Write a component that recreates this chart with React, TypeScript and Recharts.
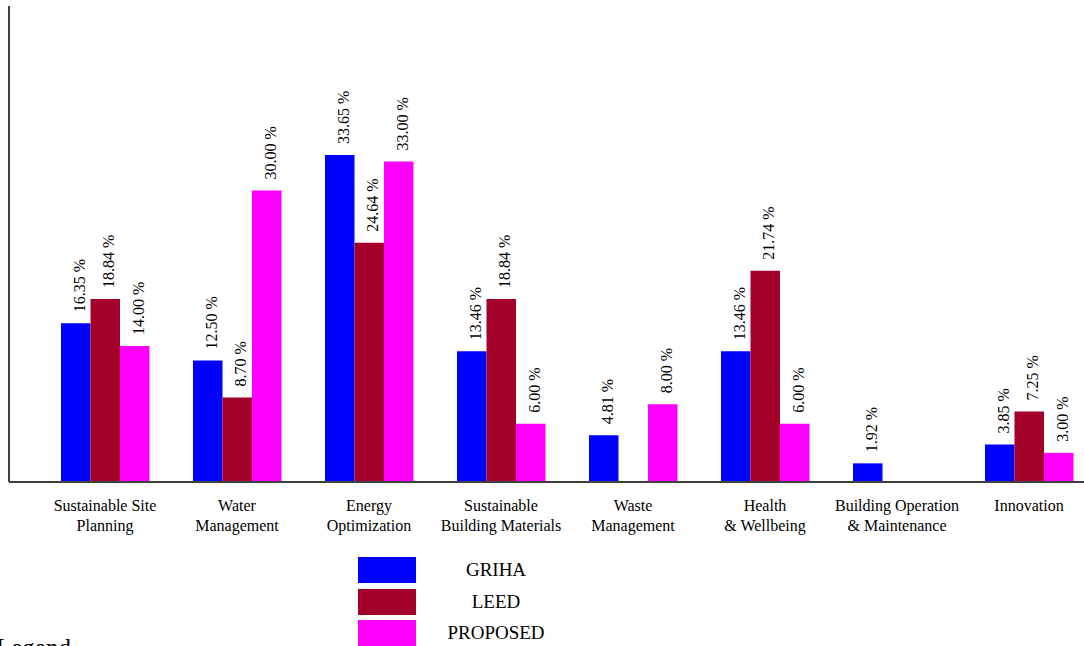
import React from 'react';
import { BarChart, Bar, XAxis, YAxis, LabelList, Legend } from 'recharts';

const CATEGORIES = [
  ['Sustainable Site', 'Planning'],
  ['Water', 'Management'],
  ['Energy', 'Optimization'],
  ['Sustainable', 'Building Materials'],
  ['Waste', 'Management'],
  ['Health', '& Wellbeing'],
  ['Building Operation', '& Maintenance'],
  ['Innovation'],
];
const GRIHA = [16.35, 12.5, 33.65, 13.46, 4.81, 13.46, 1.92, 3.85];
const LEED: (number | null)[] = [18.84, 8.7, 24.64, 18.84, null, 21.74, null, 7.25];
const PROPOSED: (number | null)[] = [14.0, 30.0, 33.0, 6.0, 8.0, 6.0, null, 3.0];

const SERIES = [
  { key: 'griha', name: 'GRIHA', color: '#0000FF' },
  { key: 'leed', name: 'LEED', color: '#A3002A' },
  { key: 'proposed', name: 'PROPOSED', color: '#FF00FF' },
];

const data = CATEGORIES.map((c, i) => ({
  name: c.join('\n'),
  griha: GRIHA[i],
  leed: LEED[i],
  proposed: PROPOSED[i],
}));

const FONT = '"Liberation Serif", "Times New Roman", serif';

const ValueLabel = (props: any) => {
  const { x, y, width, value } = props;
  if (value === null || value === undefined) return null;
  const tx = x + width / 2 + 9;
  const ty = y - 11;
  return (
    <text
      x={tx}
      y={ty}
      transform={`rotate(-90, ${tx}, ${ty})`}
      textAnchor="start"
      fontFamily={FONT}
      fontSize={16}
      fill="#000"
    >
      {Number(value).toFixed(2) + ' %'}
    </text>
  );
};

const CategoryTick = (props: any) => {
  const { x, payload } = props;
  const lines = String(payload.value).split('\n');
  return (
    <text x={x} y={482 + 29} textAnchor="middle" fontFamily={FONT} fontSize={16} fill="#000">
      {lines.map((l, i) => (
        <tspan key={i} x={x} dy={i === 0 ? 0 : 20}>
          {l}
        </tspan>
      ))}
    </text>
  );
};

const renderLegend = () => (
  <div style={{ position: 'relative', width: 1084, height: 700 }}>
    {SERIES.map((s, i) => (
      <React.Fragment key={s.key}>
        <div
          style={{
            position: 'absolute',
            left: 358,
            top: 557 + i * 31.5,
            width: 58,
            height: 26,
            background: s.color,
          }}
        />
        <div
          style={{
            position: 'absolute',
            left: 436,
            top: 557 + i * 31.5,
            width: 120,
            height: 26,
            lineHeight: '26px',
            textAlign: 'center',
            fontFamily: FONT,
            fontSize: 19,
            color: '#000',
          }}
        >
          {s.name}
        </div>
      </React.Fragment>
    ))}
    <div
      style={{
        position: 'absolute',
        left: -4,
        top: 635,
        lineHeight: 1,
        fontFamily: FONT,
        fontSize: 25,
        color: '#000',
        whiteSpace: 'nowrap',
      }}
    >
      Legend
    </div>
  </div>
);

export default function App() {
  return (
    <div
      style={{
        position: 'fixed',
        left: 0,
        top: 0,
        width: 1084,
        height: 646,
        overflow: 'hidden',
        background: '#fff',
      }}
    >
      <BarChart
        width={1110}
        height={700}
        data={data}
        margin={{ top: 6, right: 15, left: 0, bottom: 158 }}
        barGap={0}
        barSize={29.5}
      >
        <XAxis
          dataKey="name"
          height={60}
          interval={0}
          padding={{ left: 30, right: 0 }}
          tickLine={false}
          axisLine={{ stroke: '#404040', strokeWidth: 2 }}
          tick={<CategoryTick />}
        />
        <YAxis
          width={9}
          domain={[0, 49]}
          ticks={[]}
          tick={false}
          tickLine={false}
          axisLine={{ stroke: '#404040', strokeWidth: 2 }}
        />
        <Legend
          layout="horizontal"
          verticalAlign="middle"
          align="center"
          content={renderLegend}
          wrapperStyle={{ position: 'absolute', left: 0, top: 0, width: 1084, height: 700, pointerEvents: 'none' }}
        />
        {SERIES.map((s) => (
          <Bar key={s.key} dataKey={s.key} name={s.name} fill={s.color} isAnimationActive={false}>
            <LabelList dataKey={s.key} content={<ValueLabel />} />
          </Bar>
        ))}
      </BarChart>
    </div>
  );
}
